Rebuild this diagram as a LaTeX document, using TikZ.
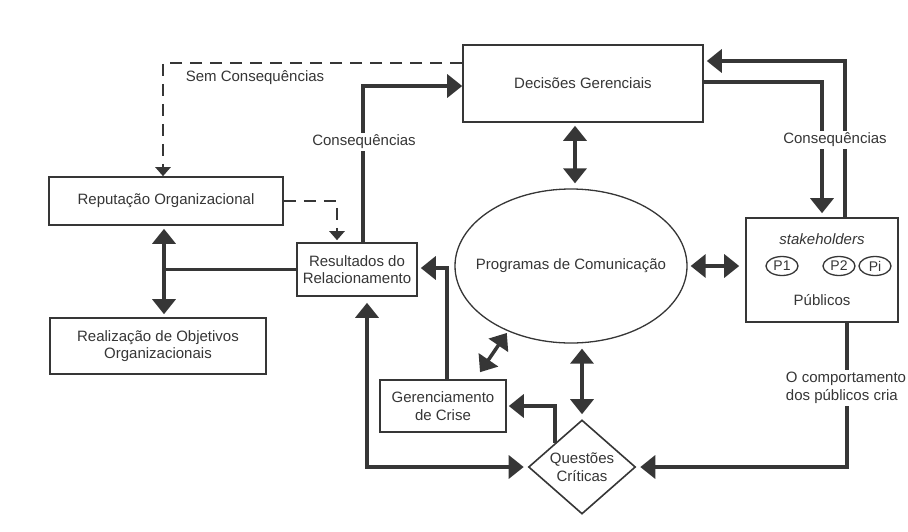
\documentclass[tikz,border=0pt]{standalone}
\usepackage{fontspec}
\setmainfont{Liberation Sans}
\usetikzlibrary{arrows.meta,shapes.geometric,calc}
\definecolor{ink}{HTML}{363636}
\begin{document}
\begin{tikzpicture}[x=1pt,y=-1pt,
  font=\fontsize{15}{17.5}\selectfont, text=ink,
  box/.style={draw=ink,line width=1.6pt,inner sep=0pt,align=center},
  conn/.style={draw=ink,line width=3.5pt},
  arr/.style={conn,-{Triangle[width=23pt,length=15pt]}},
  dbl/.style={conn,{Triangle[width=23pt,length=15pt]}-{Triangle[width=23pt,length=15pt]}},
  dsh/.style={draw=ink,line width=2.4pt,dash pattern=on 12pt off 8pt,-{Triangle[width=15pt,length=9pt]}},
  lbl/.style={fill=white,inner sep=2pt,align=center},
  pnode/.style={ellipse,draw=ink,line width=1.3pt,inner sep=0pt,minimum width=32pt,minimum height=19pt,font=\fontsize{14}{16}\selectfont}
]
\useasboundingbox[fill=white] (0,0) rectangle (908,531);

% nodes
\node[box,minimum width=240pt,minimum height=77pt] (dg) at (583,83.5) {Decisões Gerenciais};
\node[box,minimum width=234pt,minimum height=48pt] (rep) at (166,201) {Reputação Organizacional};
\node[box,minimum width=120pt,minimum height=53pt] (res) at (357,269.5) {Resultados do\\Relacionamento};
\node[box,minimum width=216pt,minimum height=56pt] (real) at (158,346) {Realização de Objetivos\\Organizacionais};
\node[box,minimum width=126pt,minimum height=52pt] (ger) at (443,406) {Gerenciamento\\de Crise};
\node[ellipse,draw=ink,line width=1.3pt,inner sep=0pt,minimum width=232pt,minimum height=154pt,
      label={center:Programas de Comunicação}] (el) at (571,266) {};
\node[diamond,draw=ink,line width=1.6pt,inner sep=0pt,minimum width=107pt,minimum height=94pt,
      label={[align=center]center:Questões\\Críticas}] (q) at (582,467) {};
\node[box,minimum width=152pt,minimum height=104pt] (pub) at (822,270) {};
\node[font=\fontsize{15}{17.5}\selectfont\itshape] (stk) at (822,239) {stakeholders};
\node[pnode] (p1) at (782,266) {P1};
\node[pnode] (p2) at (839,266) {P2};
\node[pnode] (pi) at (875,266) {Pi};
\node (publ) at (822,300) {Públicos};

% connectors
\draw[dsh] (dg.west |- 0,63) -| (163,0 |- rep.north);
\draw[arr] (363,0 |- res.north) |- (dg.west |- 0,86);
\draw[dsh,shorten >=2pt] (rep.east) -| (337,0 |- res.north);
\draw[dbl,shorten <=3pt,shorten >=3pt] (164,0 |- rep.south) -- (164,0 |- real.north);
\draw[conn] (res.west) -- (164,0 |- res.west);
\draw[arr,shorten >=3pt] (447,0 |- ger.north) |- (res.east |- 0,268);
\draw[dbl,shorten <=4pt,shorten >=6pt] (q.west) -| (367,0 |- res.south);
\draw[dbl,shorten <=3pt,shorten >=5pt] (575,0 |- dg.south) -- (575,0 |- el.north);
\draw[dbl,shorten >=2pt] ($(ger.north)+(37,-7)$) -- (el.226);
\draw[dbl,shorten <=5pt,shorten >=5pt] (582,0 |- el.south) -- (q.north);
\draw[arr,shorten >=2pt] (q.north west) |- (ger.east);
\draw[dbl,shorten <=3pt,shorten >=6pt] (el.east) -- (pub.west |- el.east);
\draw[arr,shorten >=4pt] (dg.east |- 0,82) -| (822,0 |- pub.north);
\draw[arr,shorten >=3pt] (845,0 |- pub.north) |- (dg.east |- 0,61);
\draw[arr,shorten >=4pt] (847,0 |- pub.south) |- (q.east);

% labels
\node (sem) at (255,78) {Sem Consequências};
\node[lbl] (c1) at (364,142) {Consequências};
\node[lbl] (c2) at (835,140) {Consequências};
\node[lbl,align=left] (oc) at (846,388) {O comportamento\\dos públicos cria};
\end{tikzpicture}
\end{document}
